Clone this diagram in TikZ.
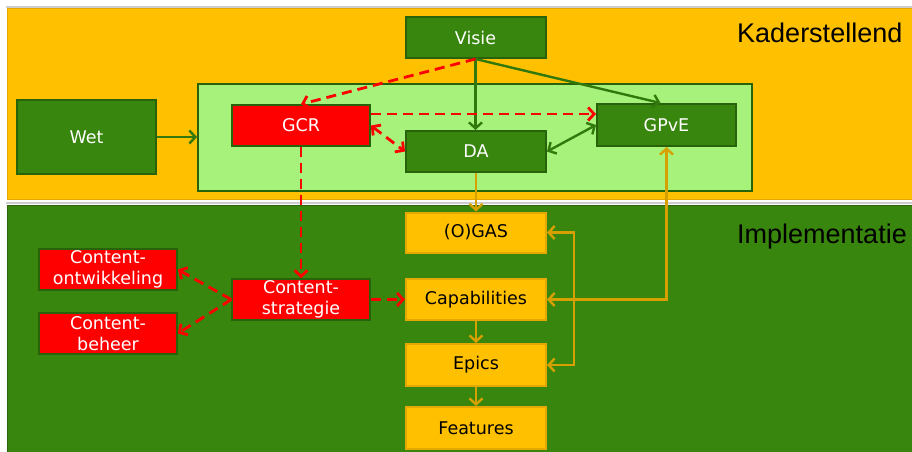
\documentclass[tikz,border=0pt]{standalone}
\usepackage{fontspec}
\usetikzlibrary{arrows.meta,calc}
\newfontfamily\dvfont{DejaVu Sans}
\newfontfamily\lsfont{Liberation Sans}
\definecolor{bandyellow}{RGB}{255,192,0}
\definecolor{bandyellowedge}{RGB}{228,168,0}
\definecolor{bandgreen}{RGB}{56,134,14}
\definecolor{bandgreenedge}{RGB}{44,104,10}
\definecolor{nodegreen}{RGB}{56,134,14}
\definecolor{nodegreenedge}{RGB}{40,98,10}
\definecolor{lightgreen}{RGB}{166,242,122}
\definecolor{goldline}{RGB}{214,160,0}
\definecolor{redfill}{RGB}{255,0,0}
\definecolor{sepgray}{RGB}{205,205,205}
\tikzset{
  base/.style={inner sep=0pt, align=center, font=\dvfont\fontsize{17.5}{21}\selectfont},
  greenbox/.style={base, draw=nodegreenedge, fill=nodegreen, line width=2pt, text=white},
  redbox/.style={base, draw=nodegreenedge, fill=redfill, line width=1.6pt, text=white},
  yellowbox/.style={base, draw=bandyellowedge, fill=bandyellow, line width=2pt, text=black},
  greenarrow/.style={draw=nodegreen!90!black, line width=2.4pt, -{Straight Barb[length=6pt,width=13pt]}},
  goldarrow/.style={draw=goldline, line width=2.4pt, -{Straight Barb[length=6pt,width=13pt]}},
  redarrow/.style={draw=redfill, line width=2.8pt, dash pattern=on 10pt off 6pt, -{Straight Barb[length=6pt,width=13pt]}},
  bothtips/.style={{Straight Barb[length=6pt,width=13pt]}-{Straight Barb[length=6pt,width=13pt]}},
  bandlabel/.style={anchor=base west, inner sep=0pt, font=\lsfont\fontsize{27}{30}\selectfont, text=black}
}
\begin{document}
\begin{tikzpicture}[x=1pt,y=-1pt]
\useasboundingbox (0,0) rectangle (912,451);
\fill[white] (0,0) rectangle (912,451);
% bands
\fill[sepgray] (6,5.5) rectangle (912,7.5);
\draw[fill=bandyellow, draw=bandyellowedge, line width=1pt] (7.5,8) rectangle (912,199.5);
\fill[sepgray] (6,201.5) rectangle (912,204);
\draw[fill=bandgreen, draw=bandgreenedge, line width=1pt] (7.5,205.5) rectangle (912,452);
\node[bandlabel] (kader) at (737,42) {Kaderstellend};
\node[bandlabel] (impl) at (737,243) {Implementatie};
% container
\node[draw=nodegreenedge, fill=lightgreen, line width=2pt, minimum width=554pt, minimum height=107pt, inner sep=0pt] (cont) at (475,137) {};
% nodes
\node[greenbox, minimum width=140pt, minimum height=41pt] (visie) at (475.5,37.5) {Visie};
\node[greenbox, minimum width=139pt, minimum height=74pt] (wet) at (86.5,137) {Wet};
\node[redbox, minimum width=138pt, minimum height=41pt] (gcr) at (301,125.5) {GCR};
\node[greenbox, minimum width=140pt, minimum height=41pt] (da) at (476,151.5) {DA};
\node[greenbox, minimum width=139pt, minimum height=42pt] (gpve) at (666.5,125) {GPvE};
\node[yellowbox, minimum width=140pt, minimum height=40pt] (ogas) at (476,232.5) {(O)GAS};
\node[yellowbox, minimum width=140pt, minimum height=41pt] (cap) at (476,299.5) {Capabilities};
\node[yellowbox, minimum width=140pt, minimum height=42pt] (epics) at (476,365) {Epics};
\node[yellowbox, minimum width=140pt, minimum height=42pt] (feat) at (476,428) {Features};
\node[redbox, minimum width=138pt, minimum height=41pt] (cs) at (301,299.5) {Content-\\strategie};
\node[redbox, minimum width=138pt, minimum height=41pt] (co) at (108,269.5) {Content-\\ontwikkeling};
\node[redbox, minimum width=138pt, minimum height=41pt] (cb) at (108,333.5) {Content-\\beheer};
% green connectors
\draw[greenarrow] (wet.east) -- (cont.west);
\draw[greenarrow] (visie.south) -- (visie.south |- da.north);
\draw[greenarrow] (visie.south) -- ([xshift=-6pt]gpve.north);
\draw[greenarrow, bothtips] (da.east) -- (gpve.west);
% red connectors
\draw[redarrow] (visie.south) -- (gcr.north);
\draw[redarrow] ([yshift=11.5pt]gcr.east) -- ([yshift=11.5pt]gcr.east -| gpve.west);
\draw[redarrow, bothtips] (gcr.east) -- (da.west);
\draw[redarrow] (gcr.south) -- (cs.north);
\draw[redarrow] (cs.east) -- (cap.west);
\draw[redarrow] (cs.west) -- (co.east);
\draw[redarrow] (cs.west) -- (cb.east);
% gold connectors
\draw[goldarrow] (da.south) -- (ogas.north);
\draw[goldarrow, bothtips] (cap.east) -| (gpve.south);
\draw[goldarrow, bothtips] (ogas.east) -- ++(27,0) |- (epics.east);
\draw[goldarrow] (cap.south) -- (epics.north);
\draw[goldarrow] (epics.south) -- (feat.north);
\end{tikzpicture}
\end{document}
